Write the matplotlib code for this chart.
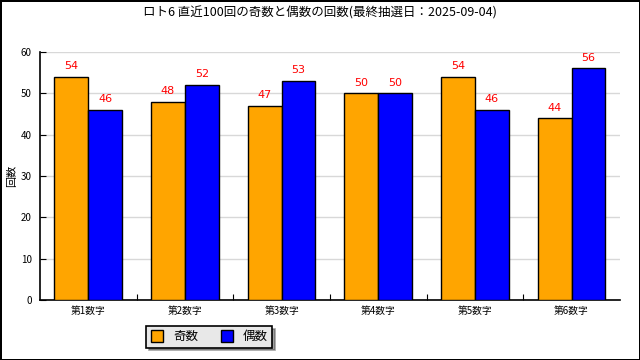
import numpy as np
import matplotlib
matplotlib.use('Agg')
from matplotlib import pyplot as plt

plt.rcParams['font.family'] = ['Noto Sans CJK JP', 'DejaVu Sans']

# データ
categories = ['第1数字', '第2数字', '第3数字', '第4数字', '第5数字', '第6数字']
odd_counts = [54, 48, 47, 50, 54, 44]
even_counts = [46, 52, 53, 50, 46, 56]
series_names = ['奇数', '偶数']
title = 'ロト6 直近100回の奇数と偶数の回数(最終抽選日：2025-09-04)'

fig = plt.figure(figsize=(6.4, 3.6), dpi=100)
fig.patch.set_edgecolor('black')
fig.patch.set_linewidth(2)
ax = fig.add_axes([0.0625, 0.1667, 0.906, 0.689])

x = np.arange(len(categories))
w = 0.35
b1 = ax.bar(x - w / 2, odd_counts, w, color='#FFA500', edgecolor='black', linewidth=1, label=series_names[0], zorder=3)
b2 = ax.bar(x + w / 2, even_counts, w, color='#0000FF', edgecolor='black', linewidth=1, label=series_names[1], zorder=3)

for bars in (b1, b2):
    for r in bars:
        ax.annotate(str(int(r.get_height())), (r.get_x() + r.get_width() / 2, r.get_height()),
                    xytext=(0, 4), textcoords='offset points', ha='center', va='bottom',
                    color='red', fontsize=8, family=['DejaVu Sans'])

ax.set_xlim(-0.5, len(categories) - 0.5)
ax.set_ylim(0, 60)
ax.set_yticks(range(0, 61, 10))
ax.set_xticks(x)
ax.set_xticklabels(categories, fontsize=7)
ax.set_xticks(np.arange(0.5, len(categories) - 0.5, 1), minor=True)
ax.tick_params(axis='x', which='major', length=0, pad=4)
ax.tick_params(axis='x', which='minor', direction='in', length=4, width=0.8)
ax.tick_params(axis='y', direction='in', length=4, labelsize=7, pad=6)
ax.yaxis.grid(True, color='#d8d8d8', linewidth=1, zorder=0)
ax.set_axisbelow(True)
for s in ('top', 'right'):
    ax.spines[s].set_visible(False)
ax.spines['left'].set_linewidth(1.2)
ax.spines['bottom'].set_linewidth(1.2)
ax.set_ylabel('回数', fontsize=8)
ax.yaxis.set_label_coords(-0.04, 0.5)

fig.text(0.5, 0.965, title, ha='center', va='center', fontsize=9)

leg = fig.legend(handles=[b1, b2], labels=series_names, loc='upper center',
                 bbox_to_anchor=(0.327, 0.112), ncol=2, fontsize=9,
                 frameon=True, fancybox=False, shadow=True, handlelength=1.0,
                 handleheight=1.0, columnspacing=1.8, borderpad=0.35)
leg.get_frame().set_facecolor('#e8e8e8')
leg.get_frame().set_edgecolor('black')
leg.get_frame().set_linewidth(1.2)

fig.savefig('out.png', dpi=100, edgecolor=fig.get_edgecolor())
